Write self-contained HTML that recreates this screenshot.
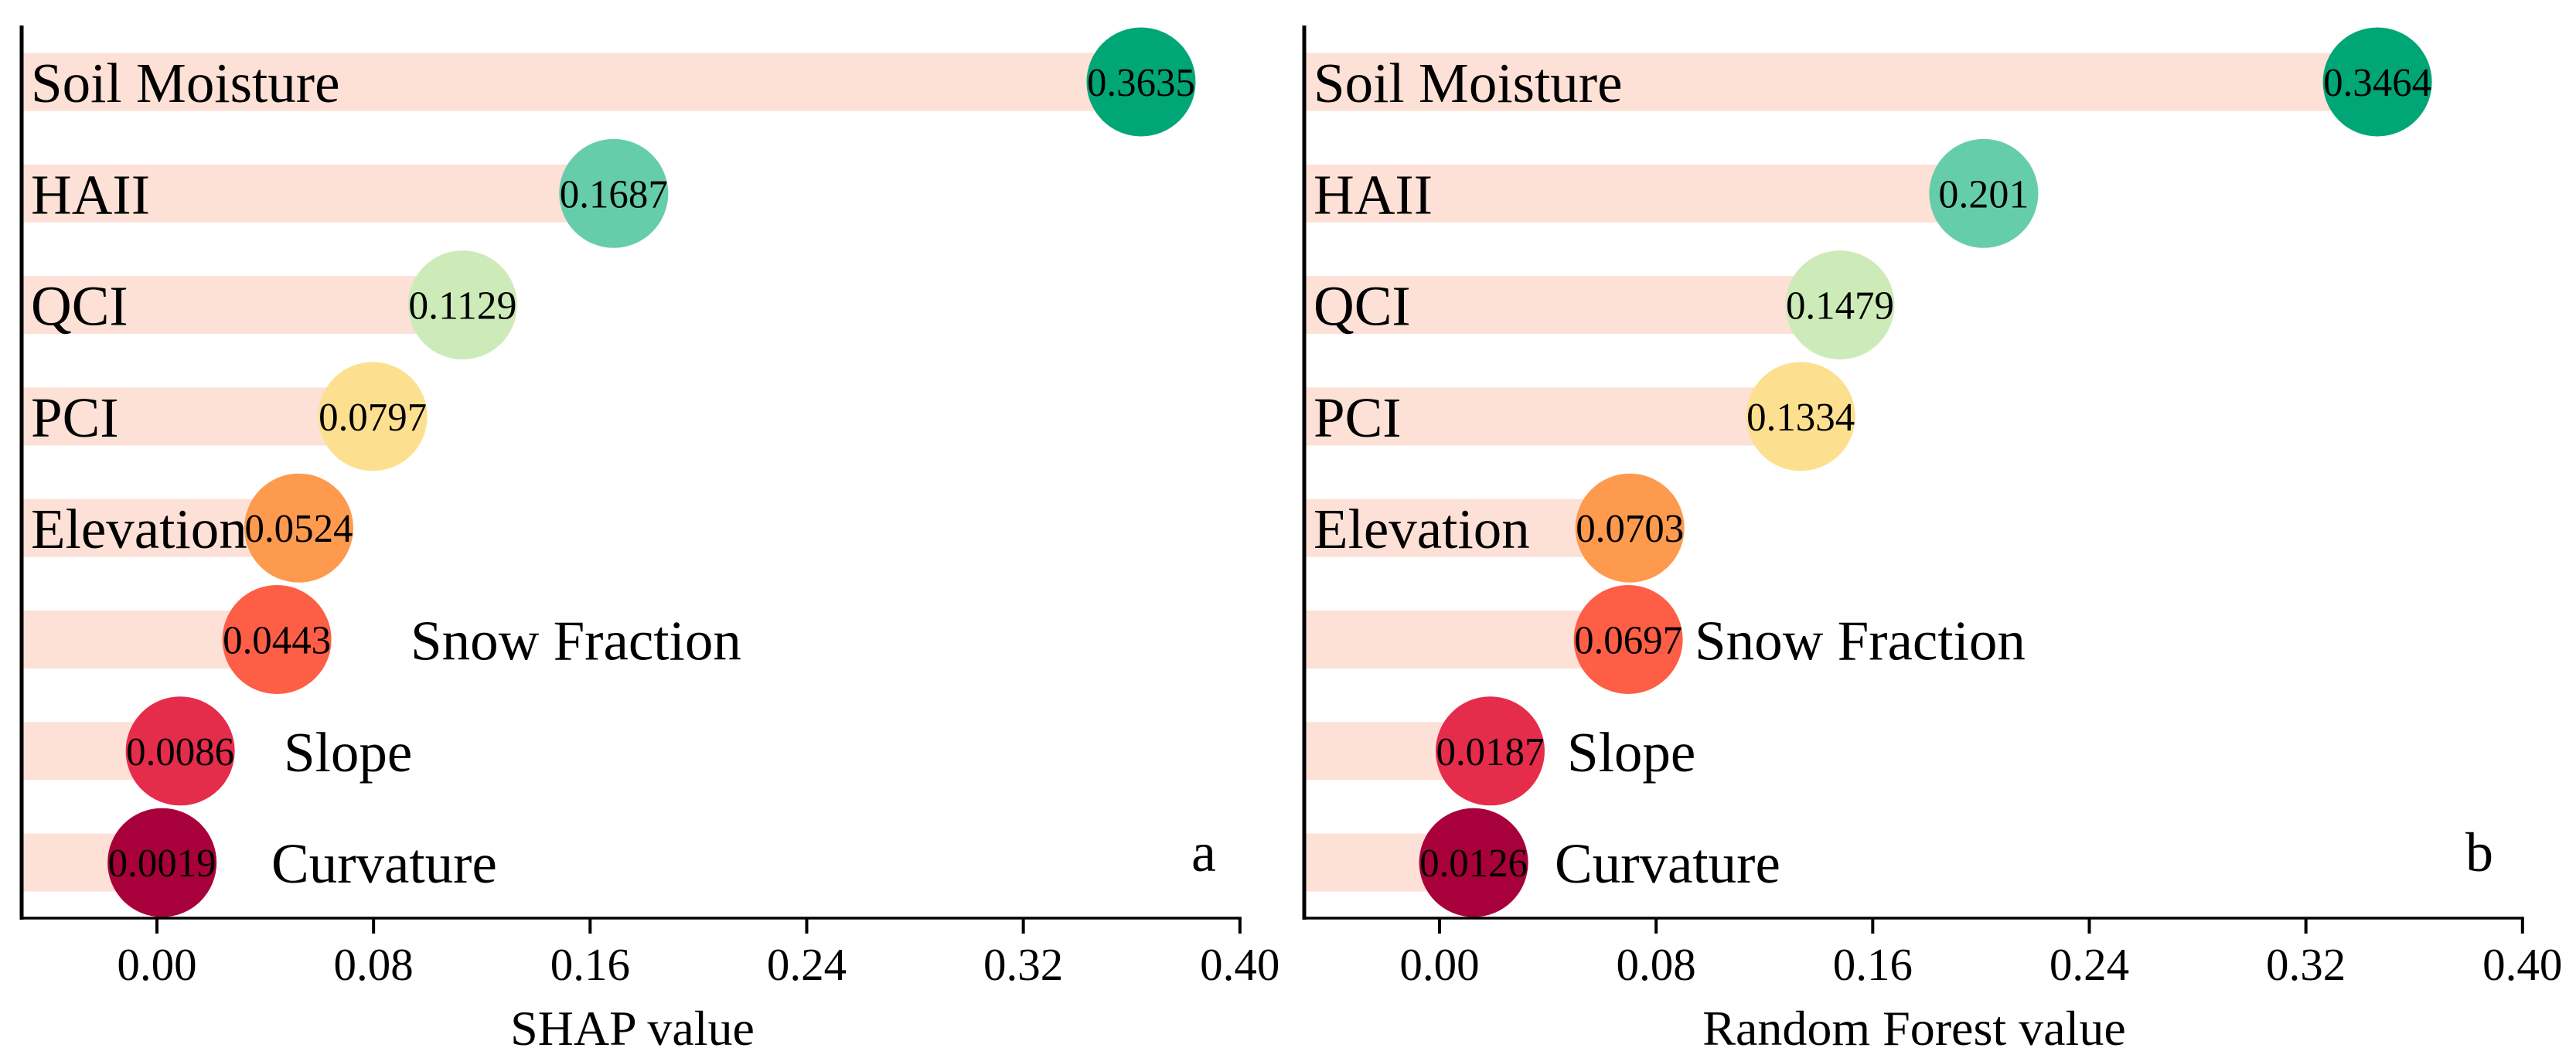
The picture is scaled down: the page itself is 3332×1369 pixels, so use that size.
<!DOCTYPE html>
<html><head><meta charset="utf-8"><style>
html,body{margin:0;padding:0;background:#fff;}
svg{display:block;font-family:"Liberation Serif","Times New Roman",serif;}
</style></head><body>
<svg id="chart" width="3332" height="1369" viewBox="0 0 3332 1369" xmlns="http://www.w3.org/2000/svg"></svg>
<script>
const categories = ["Soil Moisture","HAII","QCI","PCI","Elevation","Snow Fraction","Slope","Curvature"];
const shapValues = [0.3635,0.1687,0.1129,0.0797,0.0524,0.0443,0.0086,0.0019];
const shapLabels = ["0.3635","0.1687","0.1129","0.0797","0.0524","0.0443","0.0086","0.0019"];
const rfValues = [0.3464,0.201,0.1479,0.1334,0.0703,0.0697,0.0187,0.0126];
const rfLabels = ["0.3464","0.201","0.1479","0.1334","0.0703","0.0697","0.0187","0.0126"];
const tickValues = [0,0.08,0.16,0.24,0.32,0.40];
const tickLabels = ["0.00","0.08","0.16","0.24","0.32","0.40"];
const colors = ["#00a676","#66cdaa","#cdebb9","#fde08f","#fd9a4e","#fe5e45","#e62c4b","#a8003a"];

const NS="http://www.w3.org/2000/svg";
const svg=document.getElementById('chart');
function mk(tag,attrs,parent){const e=document.createElementNS(NS,tag);for(const k in attrs)e.setAttribute(k,attrs[k]);(parent||svg).appendChild(e);return e;}

const panels=[
 {id:'a',axisX:28,x0:203,vals:shapValues,labs:shapLabels,title:'SHAP value',titleX:818,letterX:1541,outLabelX:[null,null,null,null,null,531,367,351]},
 {id:'b',axisX:1687,x0:1862,vals:rfValues,labs:rfLabels,title:'Random Forest value',titleX:2476,letterX:3189,outLabelX:[null,null,null,null,null,2192,2027,2011]}
];
const scale=3502;
const rowY=i=>106+i*144.3;
const axisBottom=1188, axisTop=33;

panels.forEach(p=>{
 const x=v=>p.x0+v*scale;
 const g=mk('g',{});
 
 
 categories.forEach((c,i)=>{
  const cy=rowY(i), cx=x(p.vals[i]);
  const bar=mk('rect',{x:p.axisX+2,y:cy-37.5,width:Math.max(0,cx-p.axisX-2),height:75,fill:'#fde0d6'},g);
  
  
 });
 categories.forEach((c,i)=>{
  const cy=rowY(i);
  const lx=p.outLabelX[i]!==null?p.outLabelX[i]:p.axisX+12;
  const t=mk('text',{x:lx,y:cy+26,'font-size':73,fill:'#000'},g);
  t.textContent=c;
  
  
 });
 categories.forEach((c,i)=>{
  const cy=rowY(i), cx=x(p.vals[i]);
  const ci=mk('circle',{cx:cx,cy:cy,r:70.5,fill:colors[i]},g);
  
  
  const t=mk('text',{x:cx,y:cy+18,'font-size':52,'text-anchor':'middle',fill:'#000'},g);
  if(p.labs[i].length>=6){t.setAttribute('textLength',140);t.setAttribute('lengthAdjust','spacingAndGlyphs');}
  t.textContent=p.labs[i];
  
  
 });
 const ya=mk('line',{x1:p.axisX,y1:axisTop,x2:p.axisX,y2:axisBottom+2,stroke:'#000','stroke-width':5},g);
 
 
 const xa=mk('line',{x1:p.axisX-2,y1:axisBottom,x2:x(0.40)+2,y2:axisBottom,stroke:'#000','stroke-width':3.5},g);
 
 
 tickValues.forEach((v,k)=>{
  const tk=mk('line',{x1:x(v),y1:axisBottom,x2:x(v),y2:axisBottom+20,stroke:'#000','stroke-width':4},g);
  
  
  const tl=mk('text',{x:x(v),y:1268,'font-size':59,'text-anchor':'middle',fill:'#000'},g);
  tl.textContent=tickLabels[k];
  
  
 });
 const tt=mk('text',{x:p.titleX,y:1352,'font-size':64,'text-anchor':'middle',fill:'#000'},g);
 tt.textContent=p.title;
 
 
 const lt=mk('text',{x:p.letterX,y:1127,'font-size':72,fill:'#000'},g);
 lt.textContent=p.id;
 
 
});
</script>
</body></html>
